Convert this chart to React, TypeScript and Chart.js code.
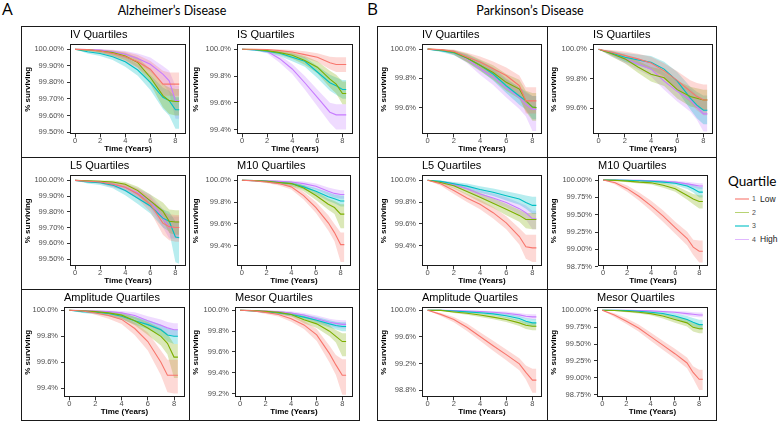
import React, { useEffect, useRef } from "react";
import { Chart, registerables } from "chart.js";
Chart.register(...registerables);

// ---------- data ----------
const T = [0, 1, 2, 3, 4, 5, 6, 7, 7.5, 8, 8.3];
const X_TICKS = [0, 2, 4, 6, 8];
const QUARTILE_NUM = ["1", "2", "3", "4"];
const QUARTILE_NAME = ["Low", "", "", "High"];

// Alzheimer's – IV
const adIV_est = [
  [100, 99.998, 99.99, 99.975, 99.955, 99.925, 99.88, 99.79, 99.79, 99.79, 99.79],
  [100, 99.997, 99.99, 99.98, 99.96, 99.92, 99.83, 99.72, 99.69, 99.685, 99.685],
  [100, 99.985, 99.975, 99.955, 99.925, 99.875, 99.8, 99.71, 99.69, 99.635, 99.635],
  [100, 99.998, 99.995, 99.985, 99.97, 99.945, 99.91, 99.85, 99.81, 99.69, 99.69],
];
const adIV_hi = [
  [100, 100, 100, 99.995, 99.985, 99.965, 99.93, 99.87, 99.86, 99.86, 99.86],
  [100, 100, 99.998, 99.993, 99.98, 99.95, 99.88, 99.79, 99.77, 99.76, 99.76],
  [100, 99.995, 99.99, 99.975, 99.955, 99.91, 99.845, 99.77, 99.75, 99.71, 99.71],
  [100, 100, 100, 99.998, 99.99, 99.975, 99.95, 99.9, 99.87, 99.78, 99.78],
];
const adIV_lo = [
  [100, 99.993, 99.978, 99.955, 99.925, 99.885, 99.83, 99.72, 99.72, 99.72, 99.72],
  [100, 99.99, 99.978, 99.96, 99.935, 99.89, 99.79, 99.65, 99.61, 99.6, 99.6],
  [100, 99.975, 99.96, 99.935, 99.895, 99.84, 99.755, 99.64, 99.6, 99.52, 99.52],
  [100, 99.993, 99.985, 99.968, 99.948, 99.915, 99.865, 99.79, 99.74, 99.58, 99.58],
];
const adIV_yticks = [100, 99.9, 99.8, 99.7, 99.6, 99.5];

// Alzheimer's – IS
const adIS_est = [
  [100, 100, 99.998, 99.99, 99.98, 99.96, 99.94, 99.9, 99.886, 99.886, 99.886],
  [100, 99.998, 99.99, 99.975, 99.955, 99.917, 99.866, 99.777, 99.74, 99.67, 99.67],
  [100, 99.995, 99.985, 99.97, 99.94, 99.91, 99.83, 99.75, 99.727, 99.7, 99.7],
  [100, 99.997, 99.985, 99.93, 99.853, 99.75, 99.64, 99.53, 99.51, 99.51, 99.51],
];
const adIS_hi = [
  [100, 100, 100, 100, 99.995, 99.985, 99.97, 99.945, 99.94, 99.94, 99.94],
  [100, 100, 99.998, 99.99, 99.978, 99.95, 99.91, 99.84, 99.81, 99.76, 99.76],
  [100, 100, 99.995, 99.985, 99.97, 99.94, 99.875, 99.81, 99.79, 99.77, 99.77],
  [100, 100, 99.995, 99.955, 99.89, 99.8, 99.7, 99.6, 99.59, 99.59, 99.59],
];
const adIS_lo = [
  [100, 99.997, 99.99, 99.975, 99.96, 99.935, 99.905, 99.85, 99.83, 99.83, 99.83],
  [100, 99.994, 99.98, 99.96, 99.93, 99.885, 99.82, 99.715, 99.67, 99.59, 99.59],
  [100, 99.99, 99.972, 99.95, 99.91, 99.87, 99.785, 99.69, 99.66, 99.63, 99.63],
  [100, 99.99, 99.97, 99.9, 99.815, 99.7, 99.575, 99.45, 99.4, 99.4, 99.4],
];
const adIS_yticks = [100, 99.8, 99.6, 99.4];

// Alzheimer's – L5
const adL5_est = [
  [100, 99.995, 99.99, 99.975, 99.957, 99.913, 99.848, 99.728, 99.706, 99.7, 99.7],
  [100, 99.998, 99.995, 99.99, 99.975, 99.935, 99.87, 99.804, 99.74, 99.735, 99.735],
  [100, 99.99, 99.985, 99.97, 99.935, 99.887, 99.837, 99.76, 99.74, 99.64, 99.635],
  [100, 99.996, 99.99, 99.975, 99.957, 99.92, 99.87, 99.76, 99.7, 99.7, 99.7],
];
const adL5_hi = [
  [100, 100, 99.998, 99.99, 99.975, 99.945, 99.895, 99.8, 99.785, 99.78, 99.78],
  [100, 100, 100, 100, 99.99, 99.96, 99.91, 99.86, 99.815, 99.81, 99.81],
  [100, 99.998, 99.995, 99.985, 99.96, 99.92, 99.875, 99.815, 99.8, 99.74, 99.74],
  [100, 100, 99.998, 99.99, 99.98, 99.95, 99.91, 99.82, 99.77, 99.77, 99.77],
];
const adL5_lo = [
  [100, 99.988, 99.98, 99.958, 99.935, 99.88, 99.8, 99.655, 99.62, 99.61, 99.61],
  [100, 99.993, 99.985, 99.975, 99.955, 99.905, 99.83, 99.745, 99.665, 99.655, 99.655],
  [100, 99.98, 99.97, 99.95, 99.905, 99.85, 99.79, 99.7, 99.675, 99.48, 99.47],
  [100, 99.99, 99.98, 99.958, 99.93, 99.885, 99.825, 99.7, 99.63, 99.63, 99.63],
];
const adL5_yticks = [100, 99.9, 99.8, 99.7, 99.6, 99.5];

// Alzheimer's – M10
const adM10_est = [
  [100, 99.995, 99.985, 99.97, 99.94, 99.86, 99.75, 99.61, 99.52, 99.41, 99.41],
  [100, 99.998, 99.99, 99.98, 99.97, 99.93, 99.86, 99.78, 99.75, 99.69, 99.69],
  [100, 99.997, 99.99, 99.98, 99.97, 99.94, 99.9, 99.85, 99.83, 99.81, 99.81],
  [100, 99.999, 99.995, 99.99, 99.985, 99.97, 99.945, 99.9, 99.88, 99.87, 99.87],
];
const adM10_hi = [
  [100, 100, 99.995, 99.985, 99.96, 99.895, 99.8, 99.68, 99.6, 99.52, 99.52],
  [100, 100, 100, 99.995, 99.99, 99.955, 99.9, 99.83, 99.81, 99.78, 99.78],
  [100, 100, 99.998, 99.993, 99.985, 99.96, 99.93, 99.89, 99.87, 99.86, 99.86],
  [100, 100, 100, 100, 99.998, 99.99, 99.97, 99.935, 99.92, 99.91, 99.91],
];
const adM10_lo = [
  [100, 99.99, 99.975, 99.952, 99.915, 99.825, 99.7, 99.54, 99.44, 99.25, 99.25],
  [100, 99.993, 99.98, 99.965, 99.945, 99.9, 99.82, 99.73, 99.69, 99.56, 99.56],
  [100, 99.99, 99.98, 99.965, 99.95, 99.915, 99.87, 99.81, 99.79, 99.76, 99.76],
  [100, 99.995, 99.985, 99.978, 99.965, 99.945, 99.915, 99.865, 99.84, 99.83, 99.83],
];
const adM10_yticks = [100, 99.8, 99.6, 99.4];

// Alzheimer's – Amplitude
const adAmp_est = [
  [100, 99.995, 99.98, 99.96, 99.93, 99.86, 99.76, 99.6, 99.5, 99.5, 99.5],
  [100, 99.997, 99.99, 99.98, 99.963, 99.92, 99.864, 99.8, 99.746, 99.64, 99.64],
  [100, 99.99, 99.985, 99.975, 99.955, 99.92, 99.89, 99.85, 99.81, 99.8, 99.8],
  [100, 99.999, 99.995, 99.99, 99.98, 99.96, 99.92, 99.885, 99.865, 99.85, 99.85],
];
const adAmp_hi = [
  [100, 100, 99.995, 99.985, 99.96, 99.905, 99.83, 99.69, 99.62, 99.62, 99.62],
  [100, 100, 100, 99.993, 99.985, 99.95, 99.91, 99.86, 99.82, 99.74, 99.74],
  [100, 99.998, 99.995, 99.99, 99.975, 99.95, 99.925, 99.89, 99.86, 99.85, 99.85],
  [100, 100, 100, 100, 99.995, 99.985, 99.955, 99.93, 99.91, 99.9, 99.9],
];
const adAmp_lo = [
  [100, 99.99, 99.965, 99.935, 99.895, 99.81, 99.69, 99.5, 99.37, 99.36, 99.36],
  [100, 99.99, 99.978, 99.96, 99.935, 99.885, 99.81, 99.73, 99.66, 99.48, 99.48],
  [100, 99.98, 99.97, 99.955, 99.93, 99.89, 99.855, 99.805, 99.76, 99.74, 99.74],
  [100, 99.995, 99.985, 99.975, 99.96, 99.935, 99.885, 99.84, 99.815, 99.8, 99.8],
];
const adAmp_yticks = [100, 99.8, 99.6, 99.4];

// Alzheimer's – Mesor
const adMes_est = [
  [100, 99.995, 99.98, 99.96, 99.92, 99.86, 99.764, 99.584, 99.476, 99.377, 99.377],
  [100, 99.997, 99.99, 99.98, 99.96, 99.91, 99.87, 99.8, 99.75, 99.7, 99.7],
  [100, 99.995, 99.985, 99.975, 99.96, 99.935, 99.905, 99.87, 99.855, 99.845, 99.845],
  [100, 99.998, 99.993, 99.985, 99.975, 99.955, 99.92, 99.885, 99.875, 99.865, 99.865],
];
const adMes_hi = [
  [100, 100, 99.995, 99.982, 99.95, 99.9, 99.82, 99.66, 99.57, 99.53, 99.53],
  [100, 100, 99.998, 99.993, 99.98, 99.945, 99.91, 99.855, 99.81, 99.78, 99.78],
  [100, 100, 99.995, 99.99, 99.98, 99.96, 99.935, 99.905, 99.89, 99.885, 99.885],
  [100, 100, 100, 99.998, 99.99, 99.975, 99.95, 99.92, 99.91, 99.905, 99.905],
];
const adMes_lo = [
  [100, 99.99, 99.965, 99.94, 99.89, 99.82, 99.705, 99.5, 99.38, 99.19, 99.19],
  [100, 99.992, 99.98, 99.965, 99.94, 99.875, 99.83, 99.75, 99.69, 99.56, 99.56],
  [100, 99.988, 99.975, 99.96, 99.94, 99.91, 99.875, 99.835, 99.815, 99.8, 99.8],
  [100, 99.993, 99.985, 99.972, 99.96, 99.935, 99.89, 99.85, 99.835, 99.825, 99.825],
];
const adMes_yticks = [100, 99.8, 99.6, 99.4, 99.2];

// Parkinson's – IV
const pdIV_est = [
  [100, 99.997, 99.985, 99.947, 99.912, 99.866, 99.82, 99.75, 99.646, 99.646, 99.646],
  [100, 99.995, 99.98, 99.94, 99.89, 99.84, 99.773, 99.727, 99.646, 99.604, 99.6],
  [100, 99.99, 99.975, 99.94, 99.89, 99.83, 99.75, 99.68, 99.646, 99.604, 99.6],
  [100, 99.993, 99.98, 99.935, 99.866, 99.81, 99.734, 99.67, 99.623, 99.588, 99.588],
];
const pdIV_hi = [
  [100, 100, 99.998, 99.975, 99.95, 99.915, 99.875, 99.82, 99.74, 99.74, 99.74],
  [100, 100, 99.995, 99.97, 99.93, 99.89, 99.83, 99.79, 99.715, 99.7, 99.7],
  [100, 99.998, 99.99, 99.965, 99.925, 99.875, 99.8, 99.74, 99.71, 99.68, 99.68],
  [100, 100, 99.992, 99.96, 99.905, 99.86, 99.79, 99.74, 99.7, 99.68, 99.68],
];
const pdIV_lo = [
  [100, 99.99, 99.968, 99.915, 99.87, 99.815, 99.76, 99.68, 99.56, 99.56, 99.56],
  [100, 99.99, 99.962, 99.91, 99.85, 99.79, 99.715, 99.66, 99.575, 99.51, 99.51],
  [100, 99.98, 99.958, 99.912, 99.855, 99.785, 99.7, 99.62, 99.585, 99.52, 99.52],
  [100, 99.985, 99.962, 99.905, 99.825, 99.755, 99.67, 99.59, 99.54, 99.44, 99.44],
];
const pdIV_yticks = [100, 99.8, 99.6];

// Parkinson's – IS
const pdIS_est = [
  [100, 99.98, 99.958, 99.935, 99.907, 99.853, 99.788, 99.713, 99.678, 99.655, 99.655],
  [100, 99.97, 99.935, 99.88, 99.83, 99.806, 99.725, 99.678, 99.667, 99.655, 99.655],
  [100, 99.974, 99.946, 99.928, 99.911, 99.865, 99.783, 99.667, 99.62, 99.585, 99.585],
  [100, 99.97, 99.935, 99.9, 99.865, 99.783, 99.713, 99.655, 99.608, 99.56, 99.56],
];
const pdIS_hi = [
  [100, 99.995, 99.985, 99.97, 99.95, 99.905, 99.85, 99.79, 99.77, 99.76, 99.76],
  [100, 99.988, 99.965, 99.92, 99.88, 99.86, 99.785, 99.745, 99.735, 99.725, 99.725],
  [100, 99.99, 99.975, 99.965, 99.955, 99.915, 99.845, 99.745, 99.71, 99.685, 99.685],
  [100, 99.985, 99.965, 99.94, 99.91, 99.84, 99.78, 99.73, 99.69, 99.66, 99.66],
];
const pdIS_lo = [
  [100, 99.965, 99.93, 99.9, 99.86, 99.8, 99.725, 99.635, 99.585, 99.55, 99.55],
  [100, 99.95, 99.905, 99.84, 99.78, 99.75, 99.665, 99.61, 99.6, 99.585, 99.585],
  [100, 99.958, 99.915, 99.89, 99.865, 99.815, 99.72, 99.59, 99.53, 99.49, 99.49],
  [100, 99.952, 99.905, 99.86, 99.815, 99.725, 99.645, 99.575, 99.52, 99.44, 99.44],
];
const pdIS_yticks = [100, 99.8, 99.6];

// Parkinson's – L5
const pdL5_est = [
  [100, 99.969, 99.906, 99.838, 99.78, 99.703, 99.61, 99.484, 99.39, 99.38, 99.38],
  [100, 99.98, 99.95, 99.897, 99.844, 99.79, 99.734, 99.678, 99.64, 99.64, 99.64],
  [100, 99.99, 99.969, 99.947, 99.916, 99.89, 99.859, 99.828, 99.797, 99.77, 99.77],
  [100, 99.985, 99.96, 99.922, 99.875, 99.838, 99.797, 99.74, 99.703, 99.647, 99.647],
];
const pdL5_hi = [
  [100, 99.985, 99.935, 99.875, 99.825, 99.755, 99.67, 99.56, 99.5, 99.5, 99.5],
  [100, 99.993, 99.972, 99.93, 99.885, 99.835, 99.785, 99.73, 99.7, 99.7, 99.7],
  [100, 99.998, 99.985, 99.97, 99.945, 99.925, 99.9, 99.875, 99.86, 99.85, 99.85],
  [100, 99.995, 99.98, 99.95, 99.91, 99.88, 99.845, 99.795, 99.77, 99.72, 99.72],
];
const pdL5_lo = [
  [100, 99.95, 99.875, 99.8, 99.735, 99.65, 99.55, 99.41, 99.28, 99.25, 99.25],
  [100, 99.965, 99.925, 99.865, 99.8, 99.745, 99.68, 99.62, 99.56, 99.55, 99.55],
  [100, 99.978, 99.95, 99.92, 99.885, 99.855, 99.815, 99.775, 99.74, 99.69, 99.69],
  [100, 99.972, 99.94, 99.895, 99.84, 99.795, 99.75, 99.685, 99.64, 99.55, 99.55],
];
const pdL5_yticks = [100, 99.8, 99.6, 99.4];

// Parkinson's – M10
const pdM10_est = [
  [100, 99.96, 99.876, 99.762, 99.628, 99.479, 99.315, 99.157, 99.033, 98.973, 98.973],
  [100, 99.995, 99.985, 99.97, 99.96, 99.926, 99.876, 99.777, 99.727, 99.69, 99.69],
  [100, 100, 99.995, 99.99, 99.982, 99.97, 99.955, 99.915, 99.876, 99.826, 99.826],
  [100, 100, 99.998, 99.995, 99.99, 99.982, 99.97, 99.945, 99.93, 99.915, 99.915],
];
const pdM10_hi = [
  [100, 99.985, 99.92, 99.82, 99.7, 99.56, 99.4, 99.255, 99.14, 99.13, 99.13],
  [100, 100, 99.998, 99.99, 99.985, 99.96, 99.92, 99.84, 99.8, 99.78, 99.78],
  [100, 100, 100, 99.998, 99.995, 99.99, 99.98, 99.955, 99.93, 99.9, 99.9],
  [100, 100, 100, 100, 99.998, 99.995, 99.99, 99.975, 99.965, 99.955, 99.955],
];
const pdM10_lo = [
  [100, 99.935, 99.83, 99.7, 99.555, 99.395, 99.225, 99.055, 98.92, 98.81, 98.81],
  [100, 99.99, 99.97, 99.95, 99.935, 99.89, 99.83, 99.715, 99.65, 99.59, 99.59],
  [100, 99.998, 99.988, 99.978, 99.965, 99.948, 99.925, 99.87, 99.82, 99.75, 99.75],
  [100, 99.998, 99.993, 99.988, 99.98, 99.968, 99.948, 99.912, 99.892, 99.87, 99.87],
];
const pdM10_yticks = [100, 99.75, 99.5, 99.25, 99, 98.75];

// Parkinson's – Amplitude
const pdAmp_est = [
  [100, 99.938, 99.862, 99.744, 99.605, 99.467, 99.333, 99.195, 99.067, 98.95, 98.95],
  [100, 99.998, 99.975, 99.954, 99.928, 99.897, 99.862, 99.81, 99.774, 99.759, 99.759],
  [100, 100, 99.99, 99.975, 99.962, 99.945, 99.918, 99.877, 99.836, 99.81, 99.81],
  [100, 100, 99.995, 99.99, 99.982, 99.97, 99.955, 99.93, 99.91, 99.9, 99.9],
];
const pdAmp_hi = [
  [100, 99.96, 99.9, 99.8, 99.67, 99.54, 99.41, 99.28, 99.17, 99.12, 99.12],
  [100, 100, 99.99, 99.975, 99.955, 99.93, 99.9, 99.855, 99.825, 99.81, 99.81],
  [100, 100, 99.998, 99.99, 99.98, 99.97, 99.95, 99.915, 99.885, 99.87, 99.87],
  [100, 100, 100, 100, 99.995, 99.99, 99.98, 99.96, 99.945, 99.94, 99.94],
];
const pdAmp_lo = [
  [100, 99.915, 99.82, 99.69, 99.54, 99.39, 99.25, 99.1, 98.96, 98.76, 98.76],
  [100, 99.992, 99.96, 99.933, 99.9, 99.865, 99.825, 99.765, 99.72, 99.7, 99.7],
  [100, 99.995, 99.98, 99.96, 99.943, 99.92, 99.885, 99.835, 99.785, 99.75, 99.75],
  [100, 99.998, 99.99, 99.98, 99.968, 99.95, 99.93, 99.9, 99.875, 99.86, 99.86],
];
const pdAmp_yticks = [100, 99.6, 99.2, 98.8];

// Parkinson's – Mesor
const pdMes_est = [
  [100, 99.929, 99.838, 99.737, 99.61, 99.484, 99.357, 99.22, 99.079, 98.978, 98.978],
  [100, 99.997, 99.985, 99.97, 99.95, 99.914, 99.863, 99.813, 99.747, 99.727, 99.727],
  [100, 100, 99.995, 99.985, 99.97, 99.952, 99.914, 99.863, 99.823, 99.787, 99.787],
  [100, 100, 99.998, 99.995, 99.99, 99.982, 99.97, 99.95, 99.94, 99.93, 99.93],
];
const pdMes_hi = [
  [100, 99.955, 99.88, 99.79, 99.67, 99.55, 99.43, 99.3, 99.17, 99.12, 99.12],
  [100, 100, 99.998, 99.99, 99.975, 99.95, 99.91, 99.865, 99.81, 99.79, 99.79],
  [100, 100, 100, 99.997, 99.99, 99.98, 99.955, 99.915, 99.885, 99.86, 99.86],
  [100, 100, 100, 100, 99.998, 99.995, 99.99, 99.98, 99.972, 99.965, 99.965],
];
const pdMes_lo = [
  [100, 99.9, 99.795, 99.685, 99.55, 99.415, 99.285, 99.14, 98.99, 98.82, 98.82],
  [100, 99.99, 99.97, 99.95, 99.925, 99.878, 99.815, 99.76, 99.685, 99.66, 99.66],
  [100, 99.995, 99.985, 99.97, 99.95, 99.925, 99.873, 99.81, 99.76, 99.715, 99.715],
  [100, 99.998, 99.993, 99.988, 99.98, 99.968, 99.95, 99.92, 99.905, 99.895, 99.895],
];
const pdMes_yticks = [100, 99.75, 99.5, 99.25, 99, 98.75];

// ---------- style / layout ----------
const COLORS = ["#F8766D", "#7CAE00", "#00BFC4", "#C77CFF"];
const FILLS = [
  "rgba(248,118,109,0.28)",
  "rgba(124,174,0,0.28)",
  "rgba(0,191,196,0.28)",
  "rgba(199,124,255,0.28)",
];
const SANS = "'Liberation Sans', Arial, Helvetica, sans-serif";
const HUM = "Lato, 'Open Sans', sans-serif";

const COLS_A = [21, 189, 359];
const COLS_B = [377, 547, 716];
const ROWS = [26, 157, 289, 420];

type PanelCfg = {
  title: string;
  est: number[][];
  lo: number[][];
  hi: number[][];
  yticks: number[];
  dec: number;
  ymin: number;
  ymax: number;
  xmin: number;
  xmax: number;
  cell: [number, number, number, number];
  plotL: number;
  plotR: number;
};

function cellOf(cols: number[], c: number, r: number): [number, number, number, number] {
  return [cols[c], ROWS[r], cols[c + 1], ROWS[r + 1]];
}

const PANELS: PanelCfg[] = [
  { title: "IV Quartiles", est: adIV_est, lo: adIV_lo, hi: adIV_hi, yticks: adIV_yticks, dec: 2, ymin: 99.486, ymax: 100.031, xmin: -0.4, xmax: 8.84, cell: cellOf(COLS_A, 0, 0), plotL: 70, plotR: 186 },
  { title: "IS Quartiles", est: adIS_est, lo: adIS_lo, hi: adIS_hi, yticks: adIS_yticks, dec: 1, ymin: 99.364, ymax: 100.038, xmin: -0.4, xmax: 8.84, cell: cellOf(COLS_A, 1, 0), plotL: 237, plotR: 353 },
  { title: "L5 Quartiles", est: adL5_est, lo: adL5_lo, hi: adL5_hi, yticks: adL5_yticks, dec: 2, ymin: 99.453, ymax: 100.033, xmin: -0.4, xmax: 8.84, cell: cellOf(COLS_A, 0, 1), plotL: 70, plotR: 186 },
  { title: "M10 Quartiles", est: adM10_est, lo: adM10_lo, hi: adM10_hi, yticks: adM10_yticks, dec: 1, ymin: 99.21, ymax: 100.047, xmin: -0.4, xmax: 8.84, cell: cellOf(COLS_A, 1, 1), plotL: 237, plotR: 351 },
  { title: "Amplitude Quartiles", est: adAmp_est, lo: adAmp_lo, hi: adAmp_hi, yticks: adAmp_yticks, dec: 1, ymin: 99.33, ymax: 100.024, xmin: -0.4, xmax: 8.84, cell: cellOf(COLS_A, 0, 2), plotL: 64, plotR: 185 },
  { title: "Mesor Quartiles", est: adMes_est, lo: adMes_lo, hi: adMes_hi, yticks: adMes_yticks, dec: 1, ymin: 99.164, ymax: 100.03, xmin: -0.4, xmax: 8.84, cell: cellOf(COLS_A, 1, 2), plotL: 235, plotR: 353 },
  { title: "IV Quartiles", est: pdIV_est, lo: pdIV_lo, hi: pdIV_hi, yticks: pdIV_yticks, dec: 1, ymin: 99.417, ymax: 100.034, xmin: -0.43, xmax: 8.73, cell: cellOf(COLS_B, 0, 0), plotL: 422, plotR: 542 },
  { title: "IS Quartiles", est: pdIS_est, lo: pdIS_lo, hi: pdIS_hi, yticks: pdIS_yticks, dec: 1, ymin: 99.42, ymax: 100.035, xmin: -0.43, xmax: 8.73, cell: cellOf(COLS_B, 1, 0), plotL: 593, plotR: 713 },
  { title: "L5 Quartiles", est: pdL5_est, lo: pdL5_lo, hi: pdL5_hi, yticks: pdL5_yticks, dec: 1, ymin: 99.21, ymax: 100.047, xmin: -0.43, xmax: 8.73, cell: cellOf(COLS_B, 0, 1), plotL: 422, plotR: 542 },
  { title: "M10 Quartiles", est: pdM10_est, lo: pdM10_lo, hi: pdM10_hi, yticks: pdM10_yticks, dec: 2, ymin: 98.755, ymax: 100.07, xmin: -0.43, xmax: 8.73, cell: cellOf(COLS_B, 1, 1), plotL: 598, plotR: 708 },
  { title: "Amplitude Quartiles", est: pdAmp_est, lo: pdAmp_lo, hi: pdAmp_hi, yticks: pdAmp_yticks, dec: 1, ymin: 98.69, ymax: 100.046, xmin: -0.43, xmax: 8.73, cell: cellOf(COLS_B, 0, 2), plotL: 422, plotR: 542 },
  { title: "Mesor Quartiles", est: pdMes_est, lo: pdMes_lo, hi: pdMes_hi, yticks: pdMes_yticks, dec: 2, ymin: 98.71, ymax: 100.045, xmin: -0.43, xmax: 8.73, cell: cellOf(COLS_B, 1, 2), plotL: 597, plotR: 708 },
];

const boxPlugin = {
  id: "panelBox",
  afterDatasetsDraw(chart: any) {
    const { ctx, chartArea } = chart;
    ctx.save();
    ctx.strokeStyle = "#1a1a1a";
    ctx.lineWidth = 1;
    const l = Math.round(chartArea.left) + 0.5;
    const t = Math.round(chartArea.top) + 0.5;
    const r = Math.round(chartArea.right) - 0.5;
    const b = Math.round(chartArea.bottom) - 0.5;
    ctx.strokeRect(l, t, r - l, b - t);
    ctx.restore();
  },
};

function Panel({ cfg }: { cfg: PanelCfg }) {
  const ref = useRef<HTMLCanvasElement>(null);
  const [x0, y0, x1, y1] = cfg.cell;
  const cLeft = x0 + 1;
  const cTop = y0 + 1;
  const cW = x1 - x0 - 2;
  const cH = y1 - y0 - 2;
  const padL = 1;
  const yW = cfg.plotL - cLeft - padL;
  const padR = cLeft + cW - cfg.plotR;

  useEffect(() => {
    if (!ref.current) return;
    const datasets: any[] = [];
    cfg.est.forEach((s, i) => {
      datasets.push({
        data: T.map((t, j) => ({ x: t, y: s[j] })),
        borderColor: COLORS[i],
        borderWidth: 1.1,
        pointRadius: 0,
        fill: false,
        tension: 0,
        order: 0,
      });
    });
    cfg.hi.forEach((s, i) => {
      datasets.push({
        data: T.map((t, j) => ({ x: t, y: s[j] })),
        borderColor: "rgba(0,0,0,0)",
        borderWidth: 0,
        pointRadius: 0,
        backgroundColor: FILLS[i],
        fill: "+1",
        tension: 0,
        order: 1,
      });
      datasets.push({
        data: T.map((t, j) => ({ x: t, y: cfg.lo[i][j] })),
        borderColor: "rgba(0,0,0,0)",
        borderWidth: 0,
        pointRadius: 0,
        fill: false,
        tension: 0,
        order: 1,
      });
    });

    const chart = new Chart(ref.current, {
      type: "line",
      data: { datasets },
      options: {
        animation: false,
        responsive: true,
        maintainAspectRatio: false,
        layout: { padding: { left: padL, right: padR, top: 0, bottom: 0 } },
        plugins: {
          legend: { display: false },
          tooltip: { enabled: false },
          title: {
            display: true,
            text: cfg.title,
            align: "start",
            fullSize: false,
            color: "#000",
            font: { family: SANS, size: 11, weight: "normal" },
            padding: { top: 1, bottom: 3 },
          },
        },
        scales: {
          x: {
            type: "linear",
            min: cfg.xmin,
            max: cfg.xmax,
            afterBuildTicks: (s: any) => {
              s.ticks = X_TICKS.map((v) => ({ value: v }));
            },
            ticks: {
              autoSkip: false,
              maxRotation: 0,
              padding: -1,
              color: "#4D4D4D",
              font: { family: SANS, size: 7.5 },
              callback: (v: any) => String(v),
            },
            grid: { drawOnChartArea: false, tickLength: 3, color: "#333" },
            border: { display: false },
            title: {
              display: true,
              text: "Time (Years)",
              color: "#000",
              font: { family: SANS, size: 8, weight: "bold" },
              padding: { top: 0, bottom: 2 },
            },
          },
          y: {
            type: "linear",
            min: cfg.ymin,
            max: cfg.ymax,
            afterBuildTicks: (s: any) => {
              s.ticks = cfg.yticks.map((v) => ({ value: v }));
            },
            afterFit: (s: any) => {
              s.width = yW;
            },
            ticks: {
              autoSkip: false,
              padding: 3,
              color: "#4D4D4D",
              font: { family: SANS, size: 7.5 },
              callback: (v: any) => Number(v).toFixed(cfg.dec) + "%",
            },
            grid: { drawOnChartArea: false, tickLength: 3, color: "#333" },
            border: { display: false },
            title: {
              display: true,
              text: "% surviving",
              color: "#000",
              font: { family: SANS, size: 8, weight: "bold" },
              padding: { top: 0, bottom: 2 },
            },
          },
        },
      },
      plugins: [boxPlugin],
    } as any);
    return () => chart.destroy();
  }, []);

  return (
    <div style={{ position: "absolute", left: cLeft, top: cTop, width: cW, height: cH }}>
      <canvas ref={ref} />
    </div>
  );
}

function Line({ l, t, w, h }: { l: number; t: number; w: number; h: number }) {
  return <div style={{ position: "absolute", left: l, top: t, width: w, height: h, background: "#1a1a1a" }} />;
}

function GroupFrame({ cols }: { cols: number[] }) {
  const [a, m, b] = cols;
  const top = ROWS[0];
  const bot = ROWS[3];
  return (
    <>
      <Line l={a} t={top} w={b - a + 1} h={1} />
      <Line l={a} t={bot} w={b - a + 1} h={1} />
      <Line l={a} t={top} w={1} h={bot - top + 1} />
      <Line l={b} t={top} w={1} h={bot - top + 1} />
      <Line l={m} t={top} w={1} h={bot - top + 1} />
      <Line l={a} t={ROWS[1]} w={b - a + 1} h={1} />
      <Line l={a} t={ROWS[2]} w={b - a + 1} h={1} />
    </>
  );
}

const LEGEND_Y = [199, 212.5, 226, 239.5];

export default function App() {
  useEffect(() => {
    document.body.style.margin = "0";
  }, []);
  const heading: React.CSSProperties = {
    position: "absolute",
    fontFamily: HUM,
    fontSize: 12.5,
    lineHeight: "15px",
    color: "#000",
    whiteSpace: "nowrap",
    transform: "translateX(-50%)",
  };
  const letter: React.CSSProperties = {
    position: "absolute",
    fontFamily: "'Open Sans', sans-serif",
    fontSize: 17,
    lineHeight: "17px",
    color: "#000",
  };
  return (
    <div style={{ position: "absolute", left: 0, top: 0, width: 778, height: 421, background: "#fff", overflow: "hidden" }}>
      <div style={{ ...letter, left: 2, top: 0 }}>A</div>
      <div style={{ ...letter, left: 367, top: 0 }}>B</div>
      <div style={{ ...heading, left: 172, top: 3 }}>Alzheimer’s Disease</div>
      <div style={{ ...heading, left: 530, top: 3 }}>Parkinson’s Disease</div>

      {PANELS.map((p, i) => (
        <Panel key={i} cfg={p} />
      ))}

      <GroupFrame cols={COLS_A} />
      <GroupFrame cols={COLS_B} />

      <div style={{ position: "absolute", left: 728, top: 173, fontFamily: HUM, fontSize: 13.5, lineHeight: "16px", color: "#000", whiteSpace: "nowrap" }}>
        Quartile
      </div>
      {QUARTILE_NUM.map((q, i) => (
        <React.Fragment key={q}>
          <div style={{ position: "absolute", left: 735, top: LEGEND_Y[i] - 0.75, width: 14, height: 1.5, background: COLORS[i], opacity: 0.55 }} />
          <div style={{ position: "absolute", left: 752, top: LEGEND_Y[i] - 5, fontFamily: SANS, fontSize: 7, lineHeight: "10px", color: "#4D4D4D" }}>{q}</div>
          <div style={{ position: "absolute", left: 760, top: LEGEND_Y[i] - 5.5, fontFamily: SANS, fontSize: 8.5, lineHeight: "11px", color: "#1a1a1a", whiteSpace: "nowrap" }}>
            {QUARTILE_NAME[i]}
          </div>
        </React.Fragment>
      ))}
    </div>
  );
}
